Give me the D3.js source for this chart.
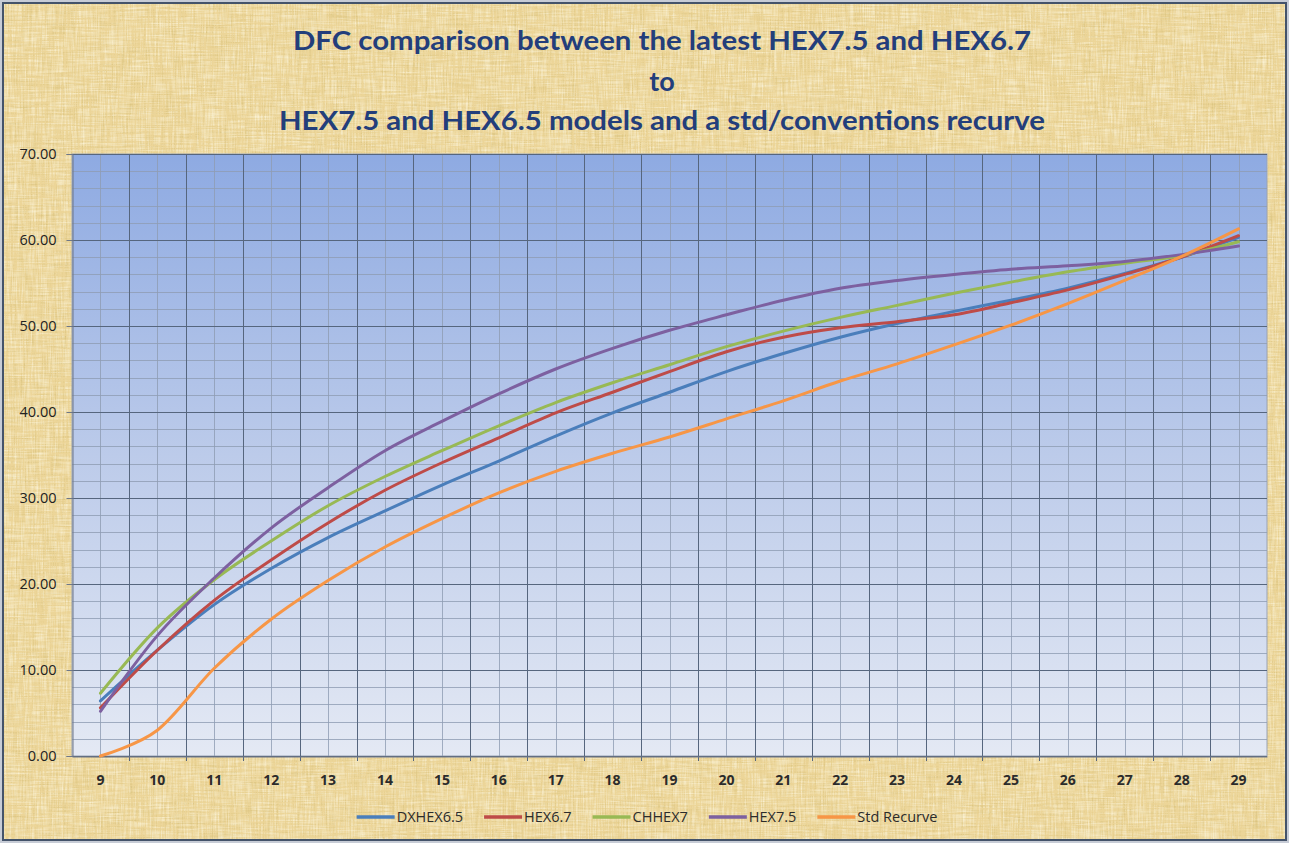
<!DOCTYPE html>
<html>
<head>
<meta charset="utf-8">
<script src="https://cdn.jsdelivr.net/npm/d3@7"></script>
<style>
  body { margin: 0; background: #c7ccd6; }
  svg { display: block; }
</style>
</head>
<body>
<div id="container"></div>
<script>

// ---- data ----
var categories = [9, 10, 11, 12, 13, 14, 15, 16, 17, 18, 19, 20, 21, 22, 23, 24, 25, 26, 27, 28, 29];

var dxhex65    = [6.4, 12.3, 17.6, 21.8, 25.4, 28.5, 31.5, 34.3, 37.2, 39.9, 42.3, 44.7, 46.8, 48.7, 50.3, 51.7, 53.0, 54.4, 56.1, 58.0, 60.3];
var hex67      = [5.6, 12.3, 18.1, 22.8, 27.1, 30.9, 34.1, 37.0, 39.9, 42.3, 44.7, 47.0, 48.7, 49.8, 50.5, 51.3, 52.7, 54.2, 56.0, 58.0, 60.5];
var chhex7     = [7.3, 14.9, 20.5, 25.0, 29.1, 32.5, 35.5, 38.4, 41.1, 43.4, 45.5, 47.6, 49.4, 51.0, 52.4, 53.8, 55.1, 56.3, 57.3, 58.2, 59.8];
var hex75      = [5.2, 14.0, 20.7, 26.5, 31.2, 35.5, 38.9, 42.1, 45.0, 47.4, 49.5, 51.3, 53.0, 54.4, 55.3, 56.0, 56.6, 57.0, 57.5, 58.3, 59.3];
var stdRecurve = [0.0, 3.0, 10.2, 15.9, 20.4, 24.3, 27.6, 30.6, 33.1, 35.2, 37.1, 39.2, 41.3, 43.6, 45.6, 47.8, 50.1, 52.6, 55.3, 58.1, 61.3];

var seriesNames  = ["DXHEX6.5", "HEX6.7", "CHHEX7", "HEX7.5", "Std Recurve"];
var seriesValues = [dxhex65, hex67, chhex7, hex75, stdRecurve];
var seriesColors = ["#4a7ebb", "#be4b48", "#98b954", "#7d60a0", "#f79646"];

var yTicks = [0, 10, 20, 30, 40, 50, 60, 70];

var titleLines = [
  "DFC comparison between the latest HEX7.5 and HEX6.7",
  "to",
  "HEX7.5 and HEX6.5 models and a std/conventions recurve"
];

// ---- layout ----
var W = 1289, H = 843;
var plot = {left: 72, right: 1267, top: 154, bottom: 756};

var svg = d3.select("#container")
  .append("svg")
  .attr("width", W)
  .attr("height", H);

var defs = svg.append("defs");

// parchment texture
var paper = defs.append("filter").attr("id", "fibers")
  .attr("x", 0).attr("y", 0).attr("width", "100%").attr("height", "100%");
paper.append("feTurbulence").attr("type", "fractalNoise")
  .attr("baseFrequency", "0.9 0.025").attr("numOctaves", 2).attr("seed", 4).attr("result", "n1");
paper.append("feTurbulence").attr("type", "fractalNoise")
  .attr("baseFrequency", "0.025 0.9").attr("numOctaves", 2).attr("seed", 9).attr("result", "n2");
paper.append("feComposite").attr("in", "n1").attr("in2", "n2")
  .attr("operator", "arithmetic").attr("k1", 0).attr("k2", 0.5).attr("k3", 0.5).attr("k4", 0).attr("result", "n");
paper.append("feColorMatrix").attr("in", "n").attr("type", "matrix")
  .attr("values", "0 0 0 0 0.62  0 0 0 0 0.48  0 0 0 0 0.16  -2.6 0 0 0 1.35");

var paperLight = defs.append("filter").attr("id", "fibersLight")
  .attr("x", 0).attr("y", 0).attr("width", "100%").attr("height", "100%");
paperLight.append("feTurbulence").attr("type", "fractalNoise")
  .attr("baseFrequency", "0.6 0.04").attr("numOctaves", 2).attr("seed", 21).attr("result", "n1");
paperLight.append("feTurbulence").attr("type", "fractalNoise")
  .attr("baseFrequency", "0.04 0.6").attr("numOctaves", 2).attr("seed", 33).attr("result", "n2");
paperLight.append("feComposite").attr("in", "n1").attr("in2", "n2")
  .attr("operator", "arithmetic").attr("k1", 0).attr("k2", 0.5).attr("k3", 0.5).attr("k4", 0).attr("result", "n");
paperLight.append("feColorMatrix").attr("in", "n").attr("type", "matrix")
  .attr("values", "0 0 0 0 1  0 0 0 0 0.97  0 0 0 0 0.82  2.6 0 0 0 -1.1");

var grad = defs.append("linearGradient").attr("id", "plotFill")
  .attr("x1", 0).attr("y1", 0).attr("x2", 0).attr("y2", 1);
grad.append("stop").attr("offset", "0%").attr("stop-color", "#8eaae2");
grad.append("stop").attr("offset", "50%").attr("stop-color", "#bccbea");
grad.append("stop").attr("offset", "100%").attr("stop-color", "#e4e9f4");

// chart background
svg.append("rect")
  .attr("x", 3).attr("y", 3).attr("width", W - 6).attr("height", H - 6)
  .attr("fill", "#ecd598");
svg.append("rect")
  .attr("x", 3).attr("y", 3).attr("width", W - 6).attr("height", H - 6)
  .attr("filter", "url(#fibers)").attr("opacity", 0.65);
svg.append("rect")
  .attr("x", 3).attr("y", 3).attr("width", W - 6).attr("height", H - 6)
  .attr("filter", "url(#fibersLight)").attr("opacity", 0.7);
svg.append("rect")
  .attr("x", 3).attr("y", 3).attr("width", W - 6).attr("height", H - 6)
  .attr("fill", "none").attr("stroke", "#44536a").attr("stroke-width", 2);

// scales
var x = d3.scaleBand()
  .domain(categories)
  .range([plot.left, plot.right]);

var y = d3.scaleLinear()
  .domain([0, 70])
  .range([plot.bottom, plot.top]);

var cx = function(c) { return x(c) + x.bandwidth() / 2; };

// plot area
svg.append("rect")
  .attr("x", plot.left).attr("y", plot.top)
  .attr("width", plot.right - plot.left).attr("height", plot.bottom - plot.top)
  .attr("fill", "url(#plotFill)")
  .attr("stroke", "#9aa3b3").attr("stroke-width", 1);

var grid = svg.append("g").attr("shape-rendering", "crispEdges");

// minor horizontal every 2
var minorY = d3.range(0, 71, 2).filter(function(v) { return v % 10 !== 0; });
grid.selectAll(".hminor")
  .data(minorY)
  .enter().append("line")
  .attr("x1", plot.left).attr("x2", plot.right)
  .attr("y1", function(d) { return Math.round(y(d)) + 0.5; })
  .attr("y2", function(d) { return Math.round(y(d)) + 0.5; })
  .attr("stroke", "#8e9cb3").attr("stroke-opacity", 0.8);

// minor vertical at category centres
grid.selectAll(".vminor")
  .data(categories)
  .enter().append("line")
  .attr("x1", function(d) { return Math.round(cx(d)) + 0.5; })
  .attr("x2", function(d) { return Math.round(cx(d)) + 0.5; })
  .attr("y1", plot.top).attr("y2", plot.bottom)
  .attr("stroke", "#8e9cb3").attr("stroke-opacity", 0.8);

// major horizontal
grid.selectAll(".hmajor")
  .data(yTicks)
  .enter().append("line")
  .attr("x1", plot.left).attr("x2", plot.right)
  .attr("y1", function(d) { return Math.round(y(d)) + 0.5; })
  .attr("y2", function(d) { return Math.round(y(d)) + 0.5; })
  .attr("stroke", "#56667e");

// major vertical at category boundaries
var boundaries = categories.slice(1);
grid.selectAll(".vmajor")
  .data(boundaries)
  .enter().append("line")
  .attr("x1", function(d) { return Math.round(x(d)) + 0.5; })
  .attr("x2", function(d) { return Math.round(x(d)) + 0.5; })
  .attr("y1", plot.top).attr("y2", plot.bottom + 5)
  .attr("stroke", "#56667e");

// y axis
var yAxis = svg.append("g")
  .attr("transform", "translate(" + (plot.left + 0.5) + ",0)")
  .call(d3.axisLeft(y).tickValues(yTicks).tickFormat(d3.format(".2f")).tickSize(6).tickPadding(10));
yAxis.select(".domain").attr("stroke", "#6e7787");
yAxis.selectAll(".tick line").attr("stroke", "#6e7787");
yAxis.selectAll("text")
  .attr("font-family", "'Open Sans', sans-serif")
  .attr("font-size", 14.5)
  .attr("fill", "#222");

// x axis
var xAxis = svg.append("g")
  .attr("transform", "translate(0," + (plot.bottom + 0.5) + ")")
  .call(d3.axisBottom(x).tickSize(0).tickPadding(19));
xAxis.select(".domain").attr("stroke", "#6e7787");
xAxis.selectAll("text")
  .attr("font-family", "'Open Sans', sans-serif")
  .attr("font-size", 14)
  .attr("font-weight", "bold")
  .attr("fill", "#2b2b2b");

// series
var line = d3.line()
  .x(function(d) { return cx(d.c); })
  .y(function(d) { return y(d.v); })
  .curve(d3.curveCatmullRom.alpha(0));

var series = seriesNames.map(function(name, i) {
  return {
    name: name,
    color: seriesColors[i],
    points: categories.map(function(c, j) { return {c: c, v: seriesValues[i][j]}; })
  };
});

svg.append("g")
  .selectAll("path")
  .data(series)
  .enter().append("path")
  .attr("d", function(d) { return line(d.points); })
  .attr("fill", "none")
  .attr("stroke", function(d) { return d.color; })
  .attr("stroke-width", 3)
  .attr("stroke-linejoin", "round")
  .attr("stroke-linecap", "round");

// title
var titleWidths = [738, null, 766];
var titleBase = [50, 91, 130];
var title = svg.append("g")
  .attr("font-family", "Lato, 'Open Sans', sans-serif")
  .attr("font-weight", "bold")
  .attr("font-size", 27)
  .attr("fill", "#233e7b")
  .attr("text-anchor", "middle");
titleLines.forEach(function(t, i) {
  var tx = title.append("text")
    .attr("x", 662)
    .attr("y", titleBase[i])
    .text(t);
  if (titleWidths[i]) {
    tx.attr("textLength", titleWidths[i]).attr("lengthAdjust", "spacingAndGlyphs");
  }
});

// legend
var legend = svg.append("g")
  .attr("font-family", "'Open Sans', sans-serif")
  .attr("font-size", 14.5)
  .attr("fill", "#2b2b2b");

var items = legend.selectAll("g")
  .data(series)
  .enter().append("g");

items.append("line")
  .attr("x1", 0).attr("x2", 38)
  .attr("y1", 0).attr("y2", 0)
  .attr("stroke", function(d) { return d.color; })
  .attr("stroke-width", 3.5);

items.append("text")
  .attr("x", 40)
  .attr("dy", "0.36em")
  .text(function(d) { return d.name; });

var xpos = 0;
items.each(function() {
  var w = this.getBBox().width;
  d3.select(this).attr("transform", "translate(" + xpos + ",0)");
  xpos += w + 21;
});
var total = xpos - 21;
legend.attr("transform", "translate(" + (647 - total / 2) + ",817)");

</script>
</body>
</html>
